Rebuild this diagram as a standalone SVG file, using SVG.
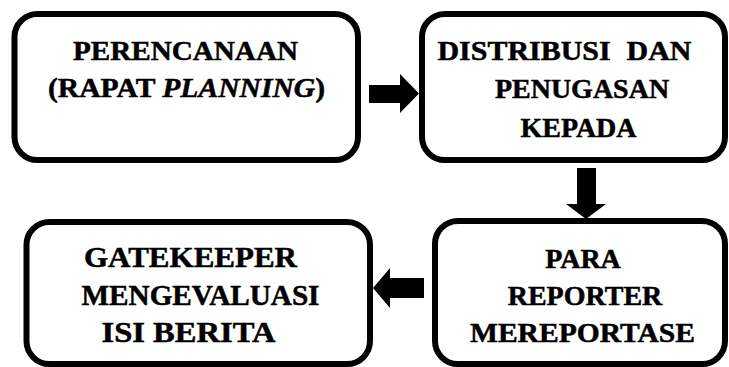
<svg xmlns="http://www.w3.org/2000/svg" width="729" height="367" viewBox="0 0 729 367">
<style>
.box{fill:#fff;stroke:#000;stroke-width:6}
.t{font-family:"Liberation Serif","Times New Roman",serif;font-weight:bold;font-size:28px;fill:#000;stroke:#000;stroke-width:0.5;text-anchor:middle}
.b{font-size:29px}
.arr{fill:#000}
</style>
<rect x="0" y="0" width="729" height="367" fill="#fff"/>
<g id="node-perencanaan">
<rect class="box" x="14.5" y="14" width="343.5" height="146" rx="23"/>
<text class="t" x="185.5" y="60" textLength="225" lengthAdjust="spacingAndGlyphs">PERENCANAAN</text>
<text class="t" x="186.5" y="97" textLength="277" lengthAdjust="spacingAndGlyphs">(RAPAT <tspan font-style="italic">PLANNING</tspan>)</text>
</g>
<g id="node-distribusi">
<rect class="box" x="422" y="14" width="303" height="146" rx="23"/>
<text class="t" x="564.5" y="60" word-spacing="8" textLength="254" lengthAdjust="spacingAndGlyphs">DISTRIBUSI DAN</text>
<text class="t" x="582" y="98">PENUGASAN</text>
<text class="t" x="578.5" y="137">KEPADA</text>
</g>
<g id="node-reporter">
<rect class="box" x="435" y="221" width="290" height="143" rx="23"/>
<text class="t" x="583" y="268">PARA</text>
<text class="t" x="585" y="305">REPORTER</text>
<text class="t" x="582.5" y="342" textLength="225" lengthAdjust="spacingAndGlyphs">MEREPORTASE</text>
</g>
<g id="node-gatekeeper">
<rect class="box" x="26.5" y="222" width="343.5" height="142" rx="23"/>
<text class="t b" x="190.5" y="267" textLength="213" lengthAdjust="spacingAndGlyphs">GATEKEEPER</text>
<text class="t b" x="200.5" y="305" textLength="238" lengthAdjust="spacingAndGlyphs">MENGEVALUASI</text>
<text class="t b" x="188.5" y="342" textLength="174" lengthAdjust="spacingAndGlyphs">ISI BERITA</text>
</g>
<g id="connectors">
<polygon class="arr" points="369,85 400,85 400,74 419,93.5 400,113 400,103 369,103"/>
<polygon class="arr" points="577,168 596,168 596,204 606,204 586,219 566,204 577,204"/>
<polygon class="arr" points="424,278 390,278 390,268 373,288 390,308 390,298 424,298"/>
</g>
</svg>
